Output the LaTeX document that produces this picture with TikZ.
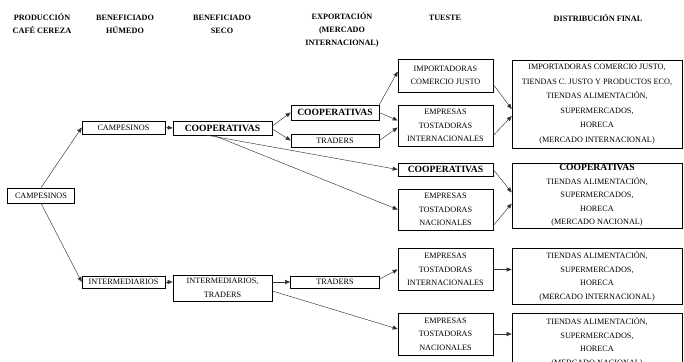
\documentclass[tikz,border=0pt]{standalone}
\usepackage{fontspec}
\setmainfont{Liberation Serif}
\usetikzlibrary{arrows.meta,shadows}

\begin{document}
\begin{tikzpicture}[x=1pt,y=-1pt]
	 \tikzstyle{caja}=[draw,fill=white,line width=0.6pt,inner sep=1pt,align=center,font=\fontsize{8.2}{13.5}\selectfont,drop shadow={shadow xshift=0.9pt,shadow yshift=-0.9pt,opacity=1,fill=black}]
	 \tikzstyle{negrita}=[font=\bfseries\fontsize{9.6}{13.5}\selectfont]
	 \tikzstyle{titulo}=[align=center,font=\bfseries\fontsize{8.2}{13}\selectfont]
	 \tikzstyle{flecha}=[draw,line width=0.45pt,black!80,-{Triangle[length=5pt,width=4pt]}]

	 \clip (0,0) rectangle (684,361);

	 % etapas
	 \node[titulo] (h1) at (42,24) {PRODUCCIÓN\\CAFÉ CEREZA};
	 \node[titulo] (h2) at (125,24) {BENEFICIADO\\HÚMEDO};
	 \node[titulo] (h3) at (222,24) {BENEFICIADO\\SECO};
	 \node[titulo] (h4) at (342,30) {EXPORTACIÓN\\(MERCADO\\INTERNACIONAL)};
	 \node[titulo] (h5) at (445,18) {TUESTE};
	 \node[titulo] (h6) at (598,18) {DISTRIBUCIÓN FINAL};

	 \node[caja,minimum width=67,minimum height=15] (camp0) at (41,195.5) {CAMPESINOS};
	 \node[caja,minimum width=83,minimum height=13] (camp1) at (123.5,127.5) {CAMPESINOS};
	 \node[caja,negrita,minimum width=99,minimum height=14] (coopSeco) at (222.5,128) {COOPERATIVAS};
	 \node[caja,negrita,minimum width=88,minimum height=15] (expCoop) at (335,112.5) {COOPERATIVAS};
	 \node[caja,minimum width=88,minimum height=13] (expTr1) at (335,140.5) {TRADERS};
	 \node[caja,minimum width=83,minimum height=12] (interm) at (123.5,282) {INTERMEDIARIOS};
	 \node[caja,minimum width=99,minimum height=26] (intTr) at (222.5,288) {INTERMEDIARIOS,\\TRADERS};
	 \node[caja,minimum width=89,minimum height=12] (expTr2) at (335,282) {TRADERS};

	 \node[caja,minimum width=95,minimum height=33] (tImp) at (445.5,75.5) {IMPORTADORAS\\COMERCIO JUSTO};
	 \node[caja,minimum width=95,minimum height=41] (tInt1) at (445.5,125.5) {EMPRESAS\\TOSTADORAS\\INTERNACIONALES};
	 \node[caja,negrita,minimum width=95,minimum height=13] (tCoop) at (445.5,169.5) {COOPERATIVAS};
	 \node[caja,minimum width=95,minimum height=41] (tNac1) at (445.5,209.5) {EMPRESAS\\TOSTADORAS\\NACIONALES};
	 \node[caja,minimum width=95,minimum height=42] (tInt2) at (445.5,269.5) {EMPRESAS\\TOSTADORAS\\INTERNACIONALES};
	 \node[caja,minimum width=95,minimum height=42] (tNac2) at (445.5,334) {EMPRESAS\\TOSTADORAS\\NACIONALES};

	 \node[caja,minimum width=170,minimum height=88,font=\fontsize{8.2}{14.5}\selectfont] (dInt1) at (597,104) {IMPORTADORAS COMERCIO JUSTO,\\TIENDAS C. JUSTO Y PRODUCTOS ECO,\\TIENDAS ALIMENTACIÓN,\\SUPERMERCADOS,\\HORECA\\(MERCADO INTERNACIONAL)};
	 \node[caja,minimum width=170,minimum height=65] (dNac1) at (597,195.5) {{\bfseries\fontsize{9.6}{13.5}\selectfont COOPERATIVAS}\\TIENDAS ALIMENTACIÓN,\\SUPERMERCADOS,\\HORECA\\(MERCADO NACIONAL)};
	 \node[caja,minimum width=170,minimum height=56] (dInt2) at (597,276.5) {TIENDAS ALIMENTACIÓN,\\SUPERMERCADOS,\\HORECA\\(MERCADO INTERNACIONAL)};
	 \node[caja,minimum width=170,minimum height=58,anchor=north] (dNac2) at (597,313) {TIENDAS ALIMENTACIÓN,\\SUPERMERCADOS,\\HORECA\\(MERCADO NACIONAL)};

	 % flechas
	 \draw[flecha] (camp0.north) -- (camp1.west);
	 \draw[flecha] (camp0.south) -- (interm.west);
	 \draw[flecha] (camp1.east) -- (coopSeco.west);
	 \draw[flecha] ([yshift=2pt]coopSeco.east) -- (expCoop.west);
	 \draw[flecha] ([yshift=-1pt]coopSeco.east) -- (expTr1.west);
	 \draw[flecha] ([xshift=-15pt]coopSeco.south) -- (tCoop.west);
	 \draw[flecha] ([xshift=-9pt]coopSeco.south) -- (tNac1.west);
	 \draw[flecha] (expCoop.north east) -- ([yshift=4pt]tImp.west);
	 \draw[flecha] (expCoop.east) -- ([yshift=5pt]tInt1.west);
	 \draw[flecha] (expTr1.east) -- ([yshift=-2pt]tInt1.west);
	 \draw[flecha] ([yshift=-9pt]tImp.east) -- ([yshift=-5pt]dInt1.west);
	 \draw[flecha] ([yshift=-10pt]tInt1.east) -- ([yshift=-12pt]dInt1.west);
	 \draw[flecha] (tCoop.east) -- ([yshift=3pt]dNac1.west);
	 \draw[flecha] ([yshift=-16pt]tNac1.east) -- ([yshift=-8pt]dNac1.west);
	 \draw[flecha] (interm.east) -- (interm.east -| intTr.west);
	 \draw[flecha] (expTr2.west -| intTr.east) -- (expTr2.west);
	 \draw[flecha] ([yshift=-3pt]intTr.east) -- ([yshift=5pt]tNac2.west);
	 \draw[flecha] ([yshift=3pt]expTr2.east) -- (tInt2.west);
	 \draw[flecha] (tInt2.east) -- (tInt2.east -| dInt2.west);
	 \draw[flecha] (tNac2.east) -- (tNac2.east -| dNac2.west);

 \end{tikzpicture}
\end{document}
